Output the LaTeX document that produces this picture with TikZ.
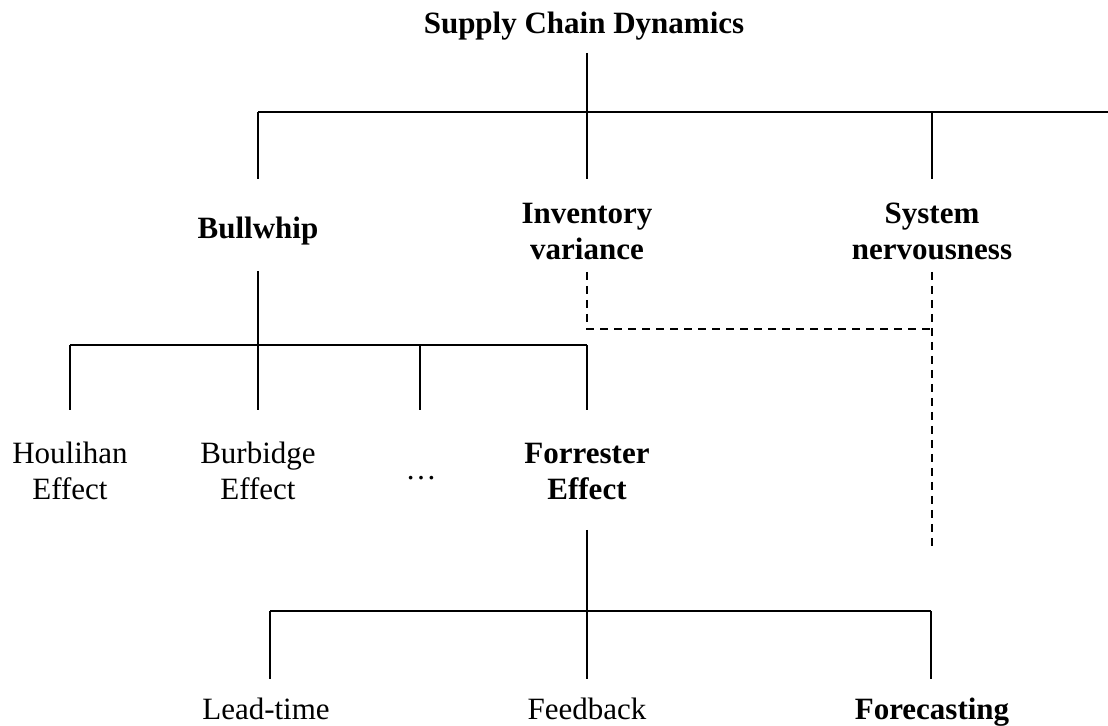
\documentclass[tikz,border=0pt]{standalone}
\usepackage{fontspec}
\setmainfont{Liberation Serif}
\usepackage{tikz}
\usetikzlibrary{calc}

\tikzset{
  lbl/.style={inner sep=0pt, align=center, anchor=base, font=\fontsize{15.5}{18}\selectfont},
  hd/.style={lbl, font=\fontsize{15.5}{18}\selectfont\bfseries},
  ln/.style={line width=1pt},
  dsh/.style={line width=0.9pt, dash pattern=on 4pt off 3pt}
}

\begin{document}
\begin{tikzpicture}[x=0.5pt,y=0.5pt,yscale=-1]
  \useasboundingbox (0,0) rectangle (1108,726);

  %Text (base = last line)
  \node[hd] (scd) at (584,34) {Supply Chain Dynamics};
  \node[hd] (bw) at (258,239) {Bullwhip};
  \node[hd] (iv) at (587,260) {Inventory\\variance};
  \node[hd] (sn) at (932,260) {System\\nervousness};
  \node[lbl] (hou) at (70,500) {Houlihan\\Effect};
  \node[lbl] (bur) at (258,500) {Burbidge\\Effect};
  \node[lbl] (dots) at (421,480) {…};
  \node[hd] (fe) at (587,500) {Forrester\\Effect};
  \node[lbl] (lt) at (266,719) {Lead-time};
  \node[lbl] (fb) at (587,719) {Feedback};
  \node[hd] (fc) at (932,719) {Forecasting};

  %Level 1
  \coordinate (scd-s) at (587,53);
  \coordinate (h1) at (587,112);
  \coordinate (h1-l) at (258,112);
  \coordinate (h1-r) at (1108,112);
  \draw[ln] (scd-s) -- (h1);
  \draw[ln] (h1-l) -- (h1-r);
  \draw[ln] (h1-l) -- (258,179);
  \draw[ln] (h1) -- (587,179);
  \draw[ln] (932,112) -- (932,179);

  %Level 2
  \coordinate (bw-s) at (258,271);
  \coordinate (h2) at (258,345);
  \coordinate (h2-l) at (70,345);
  \coordinate (h2-r) at (587,345);
  \draw[ln] (bw-s) -- (h2);
  \draw[ln] (h2-l) -- (h2-r);
  \foreach \x in {70,258,420,587}
    \draw[ln] (\x,345) -- (\x,410);

  %Level 3
  \coordinate (fe-s) at (587,530);
  \coordinate (h3) at (587,611);
  \coordinate (h3-l) at (270,611);
  \coordinate (h3-r) at (931,611);
  \draw[ln] (fe-s) -- (h3);
  \draw[ln] (h3-l) -- (h3-r);
  \foreach \x in {270,587,931}
    \draw[ln] (\x,611) -- (\x,679);

  %Dashed links
  \coordinate (iv-s) at (587,272);
  \coordinate (sn-s) at (932,272);
  \coordinate (dj) at (932,329);
  \coordinate (sn-e) at (932,546);
  \draw[dsh] (iv-s) -- (587,329) -- (dj);
  \draw[dsh] (sn-s) -- (sn-e);
\end{tikzpicture}
\end{document}
